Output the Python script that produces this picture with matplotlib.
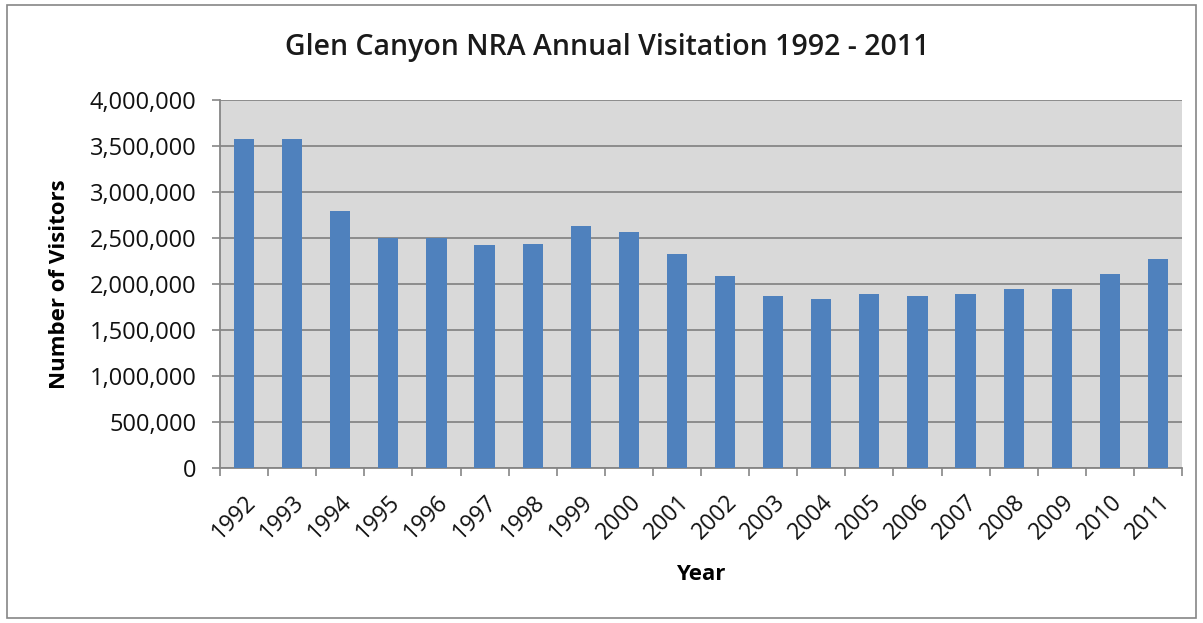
import numpy as np
import matplotlib.pyplot as plt
from matplotlib.patches import Rectangle
from matplotlib.ticker import FuncFormatter, FixedLocator

# ============================================================
# Data
# ============================================================
years = ["1992", "1993", "1994", "1995", "1996", "1997", "1998", "1999", "2000", "2001",
         "2002", "2003", "2004", "2005", "2006", "2007", "2008", "2009", "2010", "2011"]
visitors = [3580000, 3580000, 2790000, 2500000, 2500000, 2420000, 2430000, 2630000, 2560000, 2330000,
            2090000, 1870000, 1840000, 1890000, 1870000, 1890000, 1950000, 1950000, 2110000, 2270000]

title = "Glen Canyon NRA Annual Visitation 1992 - 2011"
y_ticks = [0, 500000, 1000000, 1500000, 2000000, 2500000, 3000000, 3500000, 4000000]

plt.rcParams['font.family'] = ['Open Sans', 'DejaVu Sans']

fig = plt.figure(figsize=(12.03, 6.23), dpi=100)
ax = fig.add_axes([220 / 1203, 1 - 468 / 623, (1182 - 220) / 1203, (468 - 100) / 623])

x = np.arange(len(years))
ax.bar(x, visitors, width=0.42, color="#4F81BD", zorder=3)

ax.set_facecolor("#D9D9D9")
ax.set_xlim(-0.5, len(years) - 0.5)
ax.set_ylim(0, 4000000)
ax.set_yticks(y_ticks)
ax.yaxis.set_major_formatter(FuncFormatter(lambda v, p: f"{int(v):,}"))
ax.grid(axis="y", color="#868686", linewidth=1.3, zorder=1)

# category labels at centers, tick marks between categories (Excel style)
ax.set_xticks(x)
ax.set_xticklabels(years, rotation=45, ha="right", rotation_mode="anchor", fontsize=16.5)
ax.tick_params(axis="x", which="major", length=0, pad=16)
ax.xaxis.set_minor_locator(FixedLocator(np.arange(-0.5, len(years), 1.0)))
ax.tick_params(axis="x", which="minor", length=6, color="#868686", width=1.2)
ax.tick_params(axis="y", length=6, color="#868686", width=1.2, labelsize=17, pad=11)
for lab in ax.get_xticklabels() + ax.get_yticklabels():
    lab.set_color("#111111")

for side in ["top", "right"]:
    ax.spines[side].set_visible(False)
for side in ["left", "bottom"]:
    ax.spines[side].set_color("#868686")
    ax.spines[side].set_linewidth(1.3)

ax.set_ylabel("Number of Visitors", fontsize=16, fontweight="bold")
ax.yaxis.set_label_coords(-150 / 962, 0.5)
ax.set_xlabel("Year", fontsize=16, fontweight="bold")
ax.xaxis.set_label_coords(0.5, -(96) / 368)

fig.text(607 / 1203, 1 - 48 / 623, title, fontsize=20.5, fontweight="semibold",
         ha="center", va="center", color="#1a1a1a")

# outer chart border
fig.patches.append(Rectangle((7 / 1203, 5 / 623), 1 - 14 / 1203, 1 - 10 / 623,
                             transform=fig.transFigure, fill=False,
                             edgecolor="#868686", linewidth=1.2))

fig.savefig("out.png", dpi=100)
